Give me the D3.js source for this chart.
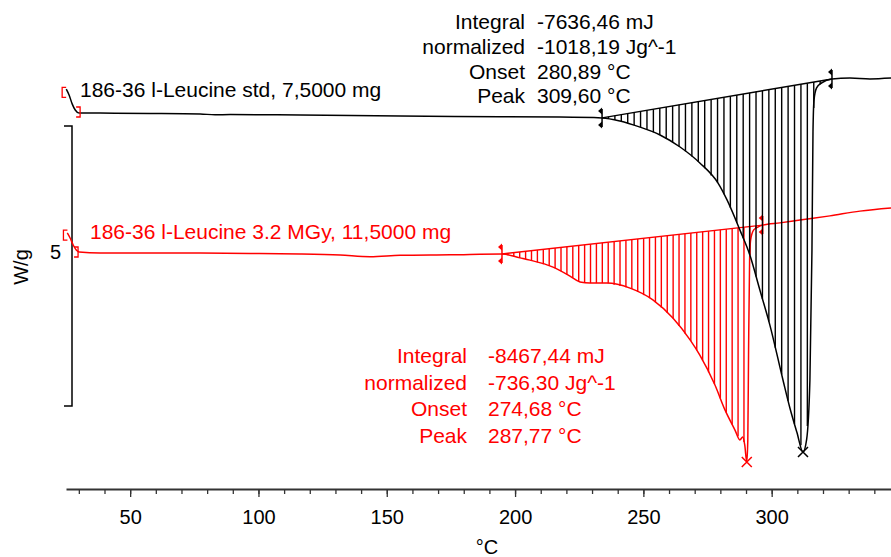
<!DOCTYPE html>
<html>
<head>
<meta charset="utf-8">
<script src="https://cdn.jsdelivr.net/npm/d3@7"></script>
<style>
  body { margin: 0; background: #fff; }
  svg { display: block; font-family: "Liberation Sans", Arial, sans-serif; }
  .axis text { font-size: 20px; fill: #000; }
</style>
</head>
<body>
<svg width="891" height="557"></svg>
<script>
// curve data, temperature in °C, heat flow in W/g (curves already stacked)
const stdTemp = [25.1, 26.2, 27.4, 28.6, 30.1, 38.3, 57.8, 77.3, 83.1, 89.0, 116.2, 155.2, 194.1, 217.5, 233.9,
  240.9, 248.7, 256.5, 264.3, 272.0, 279.1, 282.6, 287.6, 291.5, 295.4, 299.3, 304.4, 307.1, 309.8, 312.2,
  313.6, 314.9, 315.7, 316.1, 316.5, 317.5, 319.5, 323.5, 330.5, 338.3, 346.5];
const stdHeat = [10.82, 10.61, 10.29, 10.07, 9.96, 9.96, 9.95, 9.93, 9.90, 9.91, 9.89, 9.86, 9.83, 9.82, 9.79,
  9.68, 9.46, 9.18, 8.75, 8.18, 7.46, 6.86, 5.79, 4.89, 3.64, 2.39, 0.43, -0.57, -1.43, -2.14,
  -1.71, 0.43, 5.07, 9.29, 10.43, 10.86, 11.04, 11.18, 11.21, 11.18, 11.21];

const irrTemp = [25.5, 26.6, 27.8, 29.0, 30.1, 38.3, 57.8, 77.3, 96.8, 116.2, 131.8, 143.5, 155.2, 174.7, 194.9,
  201.9, 205.8, 214.8, 221.4, 225.3, 229.2, 235.8, 244.8, 253.7, 261.5, 268.2, 272.0, 277.9, 281.8, 285.7,
  287.6, 288.7, 289.5, 290.3, 290.7, 291.0, 291.4, 291.8, 293.0, 294.6, 296.5, 303.2, 311.0, 322.7, 334.4, 346.5];
const irrHeat = [5.68, 5.50, 5.25, 5.07, 5.00, 4.96, 4.96, 4.96, 4.95, 4.93, 4.89, 4.83, 4.88, 4.90, 4.93,
  4.79, 4.71, 4.46, 4.14, 3.93, 3.89, 3.89, 3.71, 3.29, 2.64, 1.86, 1.32, 0.25, -0.64, -1.36,
  -1.71, -1.61, -1.89, -2.50, -1.71, 1.50, 4.71, 5.43, 5.79, 5.89, 5.96, 6.04, 6.14, 6.29, 6.46, 6.57];

// integration baselines [start, end] and peaks
const stdBaseline = [[233.9, 9.79], [323.5, 11.18]];
const irrBaseline = [[194.9, 4.93], [296.5, 5.96]];
const stdPeak = [312.2, -2.14];
const irrPeak = [290.3, -2.50];

// evaluation range brackets
const stdRange = [[23.5, 10.7], [30.5, 10.0]];
const irrRange = [[24.0, 5.6], [29.7, 5.0]];

// labels
const stdName = "186-36 l-Leucine std, 7,5000 mg";
const irrName = "186-36 l-Leucine 3.2 MGy, 11,5000 mg";
const resultLabels = ["Integral", "normalized", "Onset", "Peak"];
const stdResults = ["-7636,46 mJ", "-1018,19 Jg^-1", "280,89 °C", "309,60 °C"];
const irrResults = ["-8467,44 mJ", "-736,30 Jg^-1", "274,68 °C", "287,77 °C"];

const majorTicks = [50, 100, 150, 200, 250, 300];
const minorTicks = d3.range(30, 346, 10);
const scaleBar = [-0.5, 9.5];
const scaleLabel = 5;

const RED = "#ff0000";

// scales
const x = d3.scaleLinear().domain([25, 346.5]).range([66, 891]);
const y = d3.scaleLinear().domain([0, 10]).range([392, 112]);

const svg = d3.select("svg");

// x axis
const axisY = 489;
const minorAxis = d3.axisBottom(x).tickValues(minorTicks).tickSize(5).tickSizeOuter(0).tickFormat("");
const majorAxis = d3.axisBottom(x).tickValues(majorTicks).tickSize(8).tickSizeOuter(0).tickPadding(13)
  .tickFormat(d3.format("d"));

svg.append("g")
  .attr("class", "axis")
  .attr("transform", "translate(0," + axisY + ")")
  .call(minorAxis)
  .call(g => g.select(".domain").attr("stroke", "#333").attr("stroke-width", 2));
svg.append("g")
  .attr("class", "axis")
  .attr("transform", "translate(0," + axisY + ")")
  .call(majorAxis)
  .call(g => g.select(".domain").remove());
svg.selectAll(".axis .tick line").attr("stroke", "#333").attr("stroke-width", 1.3);

svg.append("text")
  .attr("x", 487)
  .attr("y", 554)
  .attr("text-anchor", "middle")
  .attr("font-size", 20)
  .text("°C");

// y scale bar
const barX = 72;
svg.append("path")
  .attr("d", "M" + (barX - 8) + "," + y(scaleBar[1]) + "H" + barX + "V" + y(scaleBar[0]) + "H" + (barX - 8))
  .attr("fill", "none")
  .attr("stroke", "#000")
  .attr("stroke-width", 1.5);
svg.append("text")
  .attr("x", 61)
  .attr("y", y(scaleLabel) + 7)
  .attr("text-anchor", "end")
  .attr("font-size", 20)
  .text(scaleLabel);
svg.append("text")
  .attr("transform", "translate(28,267) rotate(-90)")
  .attr("text-anchor", "middle")
  .attr("font-size", 20)
  .text("W/g");

// helpers
const line = d3.line()
  .x(d => x(d[0]))
  .y(d => y(d[1]))
  .curve(d3.curveMonotoneX);

function interp(temps, vals, t) {
  const i = Math.max(1, Math.min(temps.length - 1, d3.bisectLeft(temps, t)));
  const f = (t - temps[i - 1]) / (temps[i] - temps[i - 1]);
  return vals[i - 1] + f * (vals[i] - vals[i - 1]);
}

function drawCurve(temps, heat, baseline, peak, range, step, color) {
  const g = svg.append("g");
  const pts = temps.map((t, i) => [t, heat[i]]);

  // hatching between baseline and curve
  const [b0, b1] = baseline;
  const hatch = d3.range(b0[0] + step, b1[0], step).map(t => {
    const base = b0[1] + (t - b0[0]) / (b1[0] - b0[0]) * (b1[1] - b0[1]);
    return [t, base, interp(temps, heat, t)];
  }).filter(d => d[1] - d[2] > 0.05);

  g.selectAll(".hatch")
    .data(hatch)
    .enter()
    .append("line")
    .attr("x1", d => x(d[0]))
    .attr("x2", d => x(d[0]))
    .attr("y1", d => y(d[1]))
    .attr("y2", d => y(d[2]))
    .attr("stroke", color)
    .attr("stroke-width", 1.4);

  // baseline
  g.append("line")
    .attr("x1", x(b0[0])).attr("y1", y(b0[1]))
    .attr("x2", x(b1[0])).attr("y2", y(b1[1]))
    .attr("stroke", color)
    .attr("stroke-width", 1.4);

  // curve
  g.append("path")
    .datum(pts)
    .attr("d", line)
    .attr("fill", "none")
    .attr("stroke", color)
    .attr("stroke-width", 1.5);

  // baseline limit markers
  baseline.forEach(b => {
    const px = x(b[0]), py = y(b[1]);
    g.append("line")
      .attr("x1", px).attr("x2", px)
      .attr("y1", py - 9).attr("y2", py + 9)
      .attr("stroke", color).attr("stroke-width", 1.5);
    [-1, 1].forEach(s => {
      const ty = py + s * 7;
      g.append("path")
        .attr("d", "M" + px + "," + (ty - 3.5) + "L" + (px - 4) + "," + ty + "L" + px + "," + (ty + 3.5) + "Z")
        .attr("fill", color);
    });
  });

  // peak cross
  const cx = x(peak[0]), cy = y(peak[1]);
  g.append("path")
    .attr("d", "M" + (cx - 5) + "," + (cy - 5) + "L" + (cx + 5) + "," + (cy + 5) +
      "M" + (cx - 5) + "," + (cy + 5) + "L" + (cx + 5) + "," + (cy - 5))
    .attr("stroke", color)
    .attr("stroke-width", 1.5);

  // range brackets (always red)
  const [r0, r1] = range;
  g.append("path")
    .attr("d", "M" + (x(r0[0]) + 4) + "," + (y(r0[1]) - 5) + "H" + x(r0[0]) + "V" + (y(r0[1]) + 5) + "H" + (x(r0[0]) + 4) +
      "M" + (x(r1[0]) - 4) + "," + (y(r1[1]) - 5) + "H" + x(r1[0]) + "V" + (y(r1[1]) + 5) + "H" + (x(r1[0]) - 4))
    .attr("fill", "none")
    .attr("stroke", RED)
    .attr("stroke-width", 1.3);
}

drawCurve(irrTemp, irrHeat, irrBaseline, irrPeak, irrRange, 2.3, RED);
drawCurve(stdTemp, stdHeat, stdBaseline, stdPeak, stdRange, 2.5, "#000");

// curve names
svg.append("text")
  .attr("x", 80).attr("y", 97)
  .attr("font-size", 21)
  .text(stdName);
svg.append("text")
  .attr("x", 90).attr("y", 239)
  .attr("font-size", 21)
  .attr("fill", RED)
  .text(irrName);

// result tables
function results(values, labelX, valueX, top, gap, color) {
  const g = svg.append("g").attr("font-size", 21).attr("fill", color);
  g.selectAll(".lab")
    .data(resultLabels)
    .enter()
    .append("text")
    .attr("x", labelX)
    .attr("y", (d, i) => top + i * gap)
    .attr("text-anchor", "end")
    .text(d => d);
  g.selectAll(".val")
    .data(values)
    .enter()
    .append("text")
    .attr("x", valueX)
    .attr("y", (d, i) => top + i * gap)
    .text(d => d);
}

results(stdResults, 525, 537, 29, 24.8, "#000");
results(irrResults, 467, 488, 363, 26.7, RED);
</script>
</body>
</html>
